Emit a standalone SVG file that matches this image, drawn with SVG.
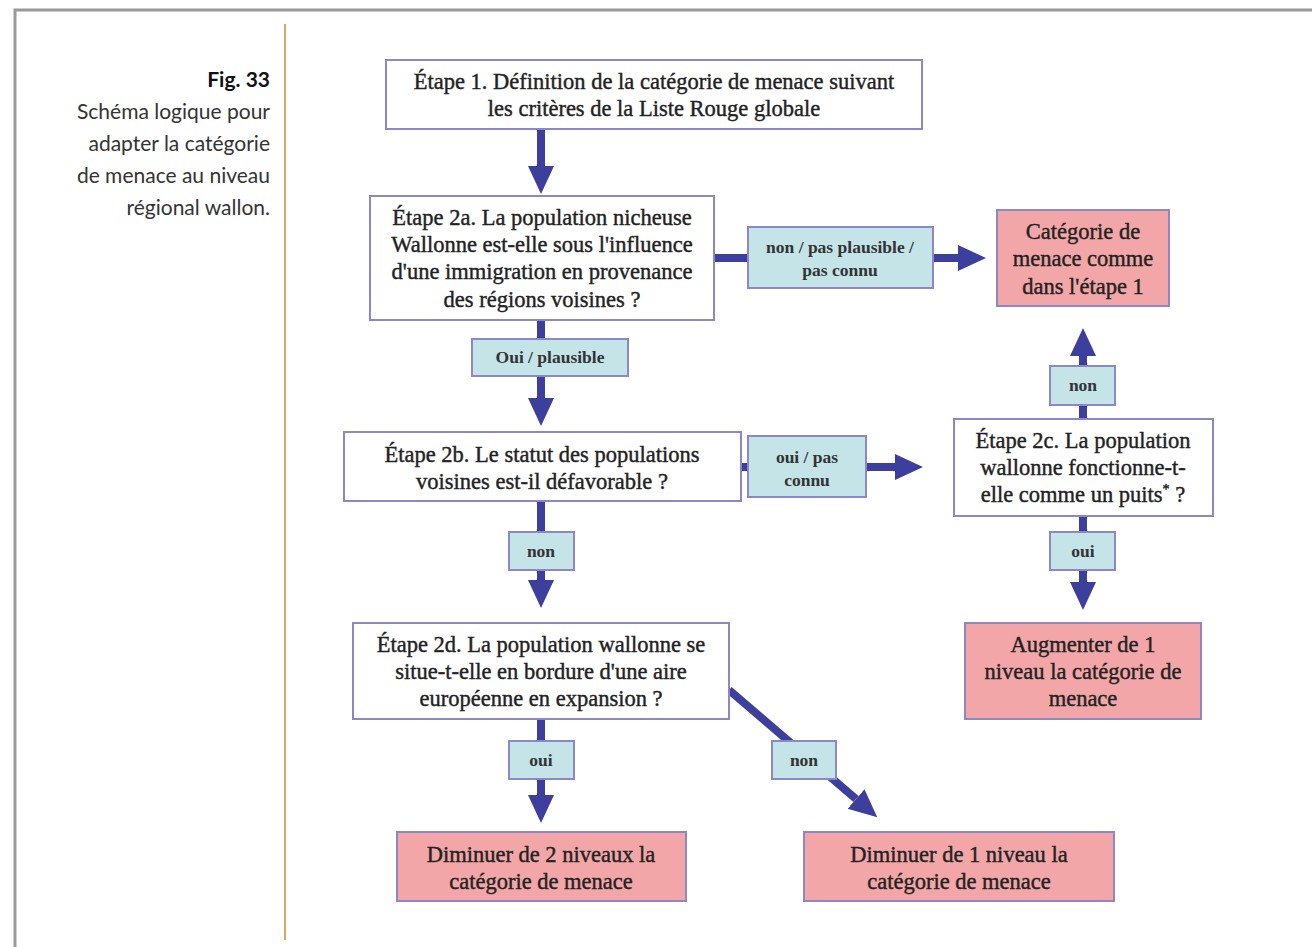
<svg xmlns="http://www.w3.org/2000/svg" width="1312" height="947" viewBox="0 0 1312 947">
<style>
.frame{fill:none;stroke:#999;stroke-width:3}
.sep{stroke:#d08a2e;stroke-width:1.5}
.cap{font-family:"Lato","Open Sans",sans-serif;font-size:21px;fill:#333;text-anchor:end}
.capb{font-weight:bold;fill:#111}
.q{fill:#fff;stroke:#8b87c9;stroke-width:2}
.r{fill:#f2a6a7;stroke:#8b87c9;stroke-width:2}
.l{fill:#c4e4e8;stroke:#8b87c9;stroke-width:2}
.t{font-family:"Liberation Serif","Times New Roman",serif;font-size:22.5px;fill:#222;stroke:#222;stroke-width:0.4;text-anchor:middle}
.lt{font-family:"Liberation Serif","Times New Roman",serif;font-size:17.5px;font-weight:bold;fill:#333;text-anchor:middle}
.c{stroke:#3d3f9c;stroke-width:8;fill:none}
.h{fill:#3d3f9c}
</style>
<defs>
<marker id="ah" markerUnits="userSpaceOnUse" markerWidth="28" markerHeight="28" viewBox="0 0 28 28" refX="0" refY="14" orient="auto">
<path d="M0,1 L28,14 L0,27 z" class="h"/>
</marker>
</defs>
<rect width="1312" height="947" fill="#fff"/>
<path class="frame" d="M15,947 V10 H1312"/>
<line class="sep" x1="285" y1="24" x2="285" y2="940"/>
<g id="caption">
<text class="cap capb" x="270" y="87">Fig. 33</text>
<text class="cap" x="270" y="119">Schéma logique pour</text>
<text class="cap" x="270" y="151">adapter la catégorie</text>
<text class="cap" x="270" y="183">de menace au niveau</text>
<text class="cap" x="270" y="215">régional wallon.</text>
</g>
<g id="connectors">
<line class="c" x1="541" y1="129" x2="541" y2="166" marker-end="url(#ah)"/>
<line class="c" x1="714" y1="258" x2="958" y2="258" marker-end="url(#ah)"/>
<line class="c" x1="541" y1="320" x2="541" y2="398" marker-end="url(#ah)"/>
<line class="c" x1="741" y1="467" x2="895" y2="467" marker-end="url(#ah)"/>
<line class="c" x1="1083" y1="419" x2="1083" y2="356" marker-end="url(#ah)"/>
<line class="c" x1="1083" y1="516" x2="1083" y2="582" marker-end="url(#ah)"/>
<line class="c" x1="541" y1="501" x2="541" y2="580" marker-end="url(#ah)"/>
<line class="c" x1="541" y1="719" x2="541" y2="795" marker-end="url(#ah)"/>
<line class="c" x1="729" y1="690" x2="856" y2="799" marker-end="url(#ah)"/>
</g>
<g id="step1">
<rect class="q" x="386" y="60" width="536" height="69"/>
<text class="t" x="654" y="89">Étape 1. Définition de la catégorie de menace suivant</text>
<text class="t" x="654" y="116">les critères de la Liste Rouge globale</text>
</g>
<g id="step2a">
<rect class="q" x="370" y="196" width="344" height="124"/>
<text class="t" x="542" y="225">Étape 2a. La population nicheuse</text>
<text class="t" x="542" y="252">Wallonne est-elle sous l'influence</text>
<text class="t" x="542" y="279">d'une immigration en provenance</text>
<text class="t" x="542" y="307">des régions voisines ?</text>
</g>
<g id="label-non-plausible">
<rect class="l" x="748" y="227" width="185" height="61"/>
<text class="lt" x="840" y="253">non / pas plausible /</text>
<text class="lt" x="840" y="276">pas connu</text>
</g>
<g id="result-same">
<rect class="r" x="997" y="210" width="172" height="96"/>
<text class="t" x="1083" y="239">Catégorie de</text>
<text class="t" x="1083" y="266">menace comme</text>
<text class="t" x="1083" y="294">dans l'étape 1</text>
</g>
<g id="label-oui-plausible">
<rect class="l" x="472" y="339" width="156" height="37"/>
<text class="lt" x="550" y="363">Oui / plausible</text>
</g>
<g id="step2b">
<rect class="q" x="344" y="432" width="397" height="69"/>
<text class="t" x="542" y="462">Étape 2b. Le statut des populations</text>
<text class="t" x="542" y="489">voisines est-il défavorable ?</text>
</g>
<g id="label-oui-pas-connu">
<rect class="l" x="748" y="436" width="118" height="61"/>
<text class="lt" x="807" y="463">oui / pas</text>
<text class="lt" x="807" y="486">connu</text>
</g>
<g id="step2c">
<rect class="q" x="954" y="419" width="259" height="97"/>
<text class="t" x="1083" y="448">Étape 2c. La population</text>
<text class="t" x="1083" y="475">wallonne fonctionne-t-</text>
<text class="t" x="1083" y="502">elle comme un puits<tspan font-size="14" dy="-8">*</tspan><tspan dy="8"> ?</tspan></text>
</g>
<g id="label-non-2c">
<rect class="l" x="1050" y="366" width="65" height="39"/>
<text class="lt" x="1083" y="391">non</text>
</g>
<g id="label-oui-2c">
<rect class="l" x="1050" y="532" width="65" height="38"/>
<text class="lt" x="1083" y="557">oui</text>
</g>
<g id="result-up1">
<rect class="r" x="965" y="623" width="236" height="96"/>
<text class="t" x="1083" y="652">Augmenter de 1</text>
<text class="t" x="1083" y="679">niveau la catégorie de</text>
<text class="t" x="1083" y="706">menace</text>
</g>
<g id="label-non-2b">
<rect class="l" x="509" y="532" width="65" height="38"/>
<text class="lt" x="541" y="557">non</text>
</g>
<g id="step2d">
<rect class="q" x="353" y="623" width="376" height="96"/>
<text class="t" x="541" y="652">Étape 2d. La population wallonne se</text>
<text class="t" x="541" y="679">situe-t-elle en bordure d'une aire</text>
<text class="t" x="541" y="706">européenne en expansion ?</text>
</g>
<g id="label-oui-2d">
<rect class="l" x="509" y="741" width="65" height="38"/>
<text class="lt" x="541" y="766">oui</text>
</g>
<g id="label-non-2d">
<rect class="l" x="772" y="741" width="64" height="38"/>
<text class="lt" x="804" y="766">non</text>
</g>
<g id="result-down2">
<rect class="r" x="397" y="832" width="289" height="69"/>
<text class="t" x="541" y="862">Diminuer de 2 niveaux la</text>
<text class="t" x="541" y="889">catégorie de menace</text>
</g>
<g id="result-down1">
<rect class="r" x="804" y="832" width="310" height="69"/>
<text class="t" x="959" y="862">Diminuer de 1 niveau la</text>
<text class="t" x="959" y="889">catégorie de menace</text>
</g>
</svg>
